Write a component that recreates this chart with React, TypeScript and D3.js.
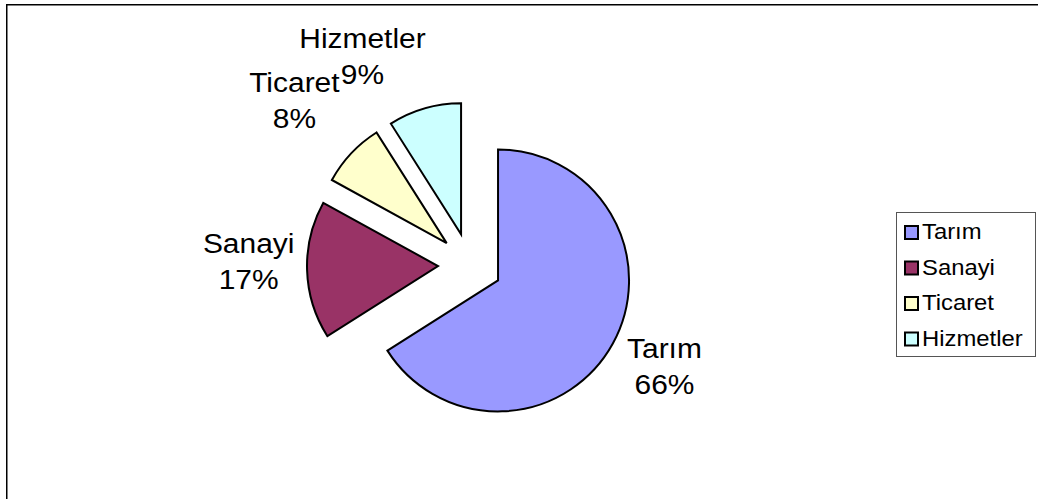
import React from 'react';
import * as d3 from 'd3';

// sector shares (percent)
const categories = ['Tarım', 'Sanayi', 'Ticaret', 'Hizmetler'];
const shares = [66, 17, 8, 9];
const colors = ['#9999FF', '#993366', '#FFFFCC', '#CCFFFF'];

// small hand tweaks for the label boxes, like excel does to avoid overlap
const labelNudge: Record<string, [number, number]> = {
  'Tarım': [5, -1],
  'Sanayi': [3, -11],
  'Ticaret': [-6, -21],
  'Hizmetler': [-38, -6],
};

const width = 1038;
const height = 499;
const cx = 470;
const cy = 265;
const radius = 131;
const explode = 32;
const labelGap = 12;
const labelFont = 28;
const lineStep = 36;

function App() {
  const data = categories.map((c, i) => ({ name: c, value: shares[i], color: colors[i] }));
  const total = d3.sum(shares);

  const pie = d3.pie<any>().sort(null).value(d => d.value).startAngle(0).endAngle(2 * Math.PI);
  const arc = d3.arc<any>().innerRadius(0).outerRadius(radius);
  const slices = pie(data);

  // rough text width measure (Arial-ish) for label box placement
  const textW = (s: string) => s.length * labelFont * 0.55 * 1.07;

  return (
    <svg width={width} height={height} style={{ position: 'absolute', left: 0, top: 0 }}
      fontFamily="Arial, 'Liberation Sans', sans-serif">
      <rect x={6.75} y={4.75} width={width + 20} height={height + 20} fill="white" stroke="black" strokeWidth={1.5} />
      <g transform={`translate(${cx},${cy})`}>
        {slices.map(s => {
          const mid = (s.startAngle + s.endAngle) / 2;
          const dx = Math.sin(mid), dy = -Math.cos(mid);
          return (
            <path key={s.data.name} d={arc(s) as string}
              transform={`translate(${dx * explode},${dy * explode})`}
              fill={s.data.color} stroke="black" strokeWidth={2} strokeLinejoin="miter" />
          );
        })}
        {slices.map(s => {
          const mid = (s.startAngle + s.endAngle) / 2;
          const dx = Math.sin(mid), dy = -Math.cos(mid);
          const pct = Math.round((s.data.value / total) * 100) + '%';
          const w = Math.max(textW(s.data.name), textW(pct));
          const h = lineStep * 2;
          const d = radius + explode + labelGap;
          const nudge = labelNudge[s.data.name] || [0, 0];
          const lx = dx * d + dx * w / 2 + nudge[0];
          const ly = dy * d + dy * h / 2 + nudge[1];
          return (
            <g key={'l' + s.data.name} transform={`translate(${lx},${ly}) scale(1.07,1)`}>
              <text textAnchor="middle" y={-8} fontSize={labelFont}>{s.data.name}</text>
              <text textAnchor="middle" y={28} fontSize={labelFont}>{pct}</text>
            </g>
          );
        })}
      </g>
      <g transform="translate(896,212)">
        <rect x={0.5} y={0.5} width={139} height={144} fill="white" stroke="#555" strokeWidth={1} />
        {data.map((d, i) => (
          <g key={d.name} transform={`translate(0,${27 + i * 35.5})`}>
            <rect x={9} y={-13} width={13} height={13} fill={d.color} stroke="black" strokeWidth={2} />
            <g transform="translate(26,0) scale(1.06,1)">
              <text x={0} y={0} fontSize={22.5}>{d.name}</text>
            </g>
          </g>
        ))}
      </g>
    </svg>
  );
}

export default App;
